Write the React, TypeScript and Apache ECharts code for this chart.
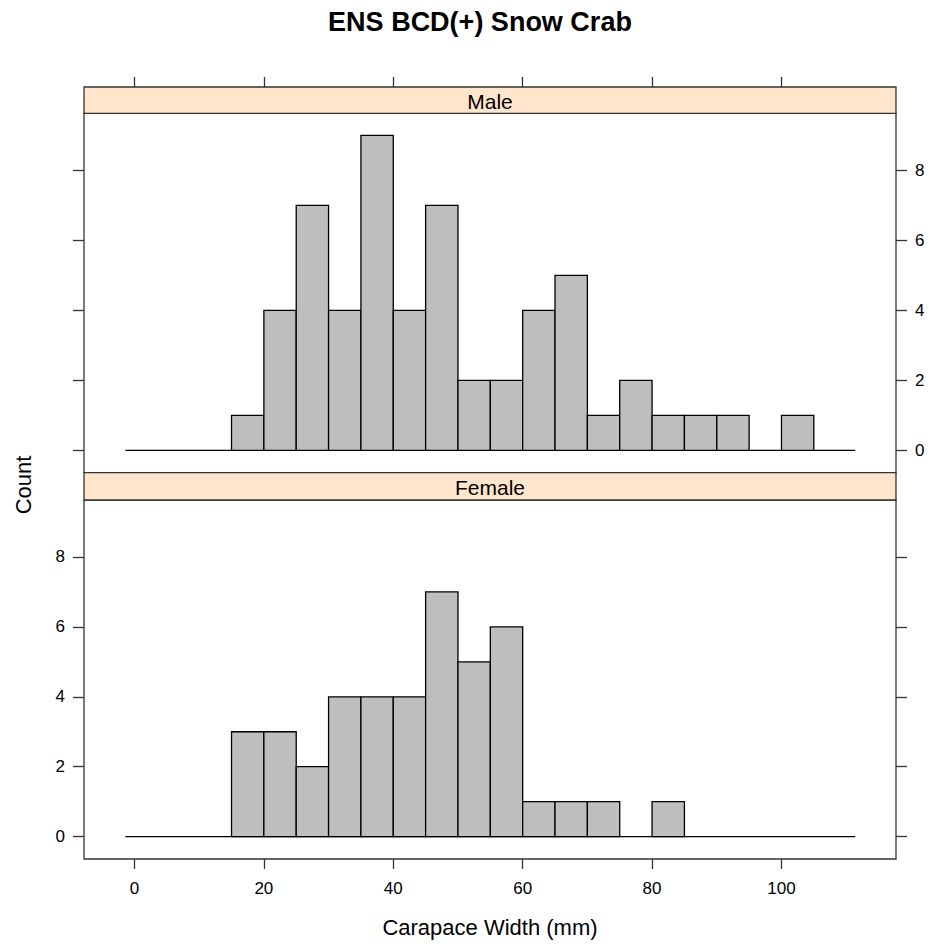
import React, { useEffect, useRef } from "react";
import * as echarts from "echarts";

const binStarts = [15, 20, 25, 30, 35, 40, 45, 50, 55, 60, 65, 70, 75, 80, 85, 90, 95, 100];
const binWidth = 5;
const maleCounts = [1, 4, 7, 4, 9, 4, 7, 2, 2, 4, 5, 1, 2, 1, 1, 1, 0, 1];
const femaleCounts = [3, 3, 2, 4, 4, 4, 7, 5, 6, 1, 1, 1, 0, 1, 0, 0, 0, 0];
const xTicks = [0, 20, 40, 60, 80, 100];
const yTicks = [0, 2, 4, 6, 8];
const panels = ["Male", "Female"];
const baselineRange = [-1.4, 111.4];
const xRange = [-7.8, 117.7];
const yRange = [-0.64, 9.63];

const FONT = "Liberation Sans, Arial, sans-serif";

export default function App() {
  const ref = useRef<HTMLDivElement>(null);
  useEffect(() => {
    document.body.style.margin = "0";
    const chart = echarts.init(ref.current!, null, { renderer: "svg" });

    const L = 84, R = 896;
    const maleStripTop = 87, maleTop = 113.3, maleBottom = 472.7;
    const femTop = 500, femBottom = 859;

    const tickStyle = { color: "#333", width: 1.3 };
    const labelStyle = { color: "#000", fontSize: 17, fontFamily: FONT };

    const histData = (counts: number[]) =>
      binStarts.map((s, i) => [s, s + binWidth, counts[i]]);

    const renderItem = (params: any, api: any) => {
      const x0 = api.value(0), x1 = api.value(1), y = api.value(2);
      const p0 = api.coord([x0, y]);
      const p1 = api.coord([x1, 0]);
      if (y === 0) return null;
      return {
        type: "rect",
        shape: { x: p0[0], y: p0[1], width: p1[0] - p0[0], height: p1[1] - p0[1] },
        style: { fill: "#bebebe", stroke: "#000", lineWidth: 1.3 },
      };
    };

    const yAx = (gridIndex: number, position: string, labels: boolean) => ({
      type: "value",
      gridIndex,
      position,
      min: yRange[0],
      max: yRange[1],
      axisLine: { show: false, onZero: false },
      splitLine: { show: false },
      axisTick: { show: true, inside: false, length: 11, lineStyle: tickStyle, customValues: yTicks },
      axisLabel: labels
        ? { show: true, margin: 19, ...labelStyle, customValues: yTicks }
        : { show: false },
    });

    const option: any = {
      animation: false,
      backgroundColor: "#fff",
      grid: [
        { left: L, width: R - L, top: maleTop, height: maleBottom - maleTop, show: true, borderColor: "#333", borderWidth: 1.3, backgroundColor: "transparent" },
        { left: L, width: R - L, top: femTop, height: femBottom - femTop, show: true, borderColor: "#333", borderWidth: 1.3, backgroundColor: "transparent" },
      ],
      xAxis: [
        {
          type: "value", gridIndex: 0, position: "top", offset: maleTop - maleStripTop,
          min: xRange[0], max: xRange[1],
          axisLine: { show: false, onZero: false }, splitLine: { show: false },
          axisTick: { show: true, length: 10, lineStyle: tickStyle, customValues: xTicks },
          axisLabel: { show: false },
        },
        {
          type: "value", gridIndex: 1, position: "bottom",
          min: xRange[0], max: xRange[1],
          axisLine: { show: false, onZero: false }, splitLine: { show: false },
          axisTick: { show: true, length: 10, lineStyle: tickStyle, customValues: xTicks },
          axisLabel: { show: true, margin: 21, ...labelStyle, customValues: xTicks },
          name: "Carapace Width (mm)", nameLocation: "middle", nameGap: 57,
          nameTextStyle: { color: "#000", fontSize: 22, fontFamily: FONT },
        },
      ],
      yAxis: [
        yAx(0, "right", true),
        yAx(0, "left", false),
        yAx(1, "left", true),
        yAx(1, "right", false),
      ],
      series: [
        { type: "custom", xAxisIndex: 0, yAxisIndex: 0, renderItem, data: histData(maleCounts), encode: { x: [0, 1], y: 2 }, clip: false },
        { type: "custom", xAxisIndex: 1, yAxisIndex: 2, renderItem, data: histData(femaleCounts), encode: { x: [0, 1], y: 2 }, clip: false },
        { type: "line", xAxisIndex: 0, yAxisIndex: 0, symbol: "none", data: [[baselineRange[0], 0], [baselineRange[1], 0]], lineStyle: { color: "#000", width: 1.3 }, z: 1 },
        { type: "line", xAxisIndex: 1, yAxisIndex: 2, symbol: "none", data: [[baselineRange[0], 0], [baselineRange[1], 0]], lineStyle: { color: "#000", width: 1.3 }, z: 1 },
      ],
      graphic: [
        { type: "rect", shape: { x: L, y: maleStripTop, width: R - L, height: maleTop - maleStripTop }, style: { fill: "#ffe5cc", stroke: "#333", lineWidth: 1.3 }, z: 10 },
        { type: "rect", shape: { x: L, y: maleBottom, width: R - L, height: femTop - maleBottom }, style: { fill: "#ffe5cc", stroke: "#333", lineWidth: 1.3 }, z: 10 },
        { type: "text", x: (L + R) / 2, y: (maleStripTop + maleTop) / 2 + 1, style: { text: panels[0], fill: "#000", font: `21px ${FONT}`, textAlign: "center", textVerticalAlign: "middle" }, z: 11 },
        { type: "text", x: (L + R) / 2, y: (maleBottom + femTop) / 2 + 1, style: { text: panels[1], fill: "#000", font: `21px ${FONT}`, textAlign: "center", textVerticalAlign: "middle" }, z: 11 },
        { type: "text", x: 480, y: 22, style: { text: "ENS BCD(+) Snow Crab", fill: "#000", font: `bold 27px ${FONT}`, textAlign: "center", textVerticalAlign: "middle" }, z: 11 },
        { type: "text", x: 23, y: 485, rotation: Math.PI / 2, style: { text: "Count", fill: "#000", font: `22px ${FONT}`, textAlign: "center", textVerticalAlign: "middle" }, z: 11 },
      ],
    };
    chart.setOption(option);
    return () => chart.dispose();
  }, []);
  return <div ref={ref} style={{ width: 932, height: 947 }} />;
}
